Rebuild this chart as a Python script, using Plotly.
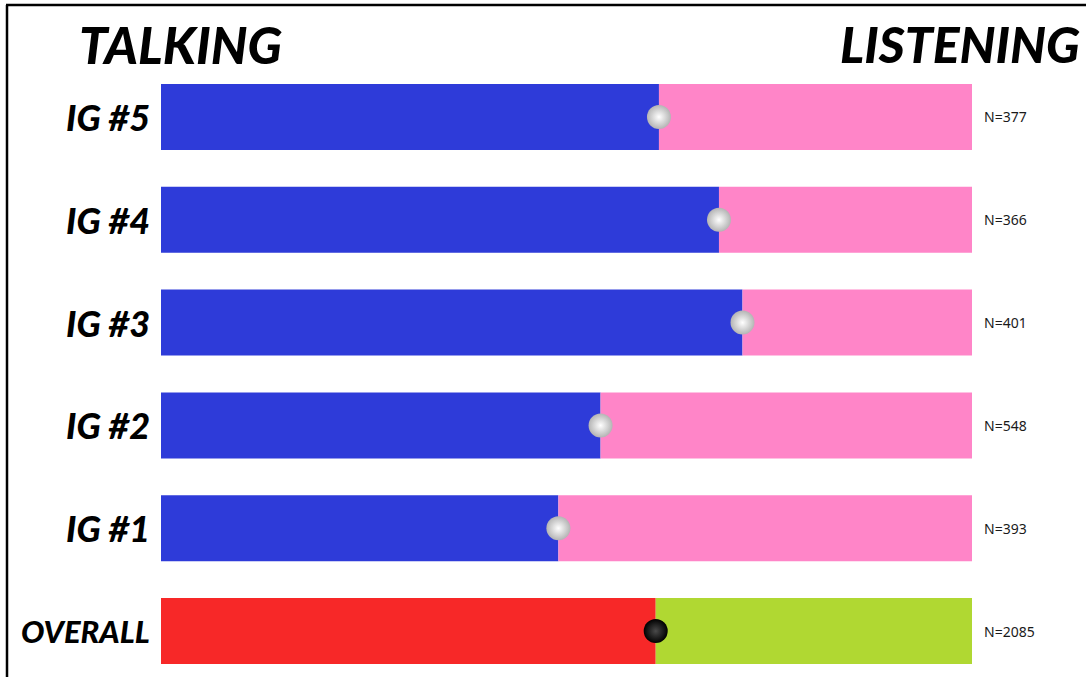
import plotly.graph_objects as go

# Share of time spent talking per group (remainder is listening)
groups = ["OVERALL", "IG #1", "IG #2", "IG #3", "IG #4", "IG #5"]
talking = [0.610, 0.490, 0.542, 0.717, 0.688, 0.614]
sample_sizes = ["N=2085", "N=393", "N=548", "N=401", "N=366", "N=377"]
label_sizes = [31, 36, 36, 36, 36, 36]

talk_colors = ["#F72828", "#2E3BD9", "#2E3BD9", "#2E3BD9", "#2E3BD9", "#2E3BD9"]
listen_colors = ["#B0D832", "#FF85C8", "#FF85C8", "#FF85C8", "#FF85C8", "#FF85C8"]

W, H = 1086, 677
L, R, T, B = 161, 114, 66, 0
PW = W - L - R
pos = list(range(len(groups)))
listening = [1 - t for t in talking]

heavy = dict(family="Lato", weight=900, style="italic", color="black")


def px_x(px):
    return (px - L) / PW


def px_y(py):
    return (H - py) / (H - T - B)


fig = go.Figure()
fig.add_trace(go.Bar(y=pos, x=talking, orientation="h", marker=dict(color=talk_colors, line=dict(width=0)),
                     width=0.642, hoverinfo="skip", showlegend=False))
fig.add_trace(go.Bar(y=pos, x=listening, base=talking, orientation="h",
                     marker=dict(color=listen_colors, line=dict(width=0)),
                     width=0.642, hoverinfo="skip", showlegend=False))

# Position markers (spheres) at the talking/listening split
fig.add_trace(go.Scatter(x=talking[1:], y=pos[1:], mode="markers",
                         marker=dict(size=24, color="#b4b4b4", line=dict(width=0),
                                     gradient=dict(type="radial", color="#ffffff")),
                         hoverinfo="skip", showlegend=False))
fig.add_trace(go.Scatter(x=talking[:1], y=pos[:1], mode="markers",
                         marker=dict(size=24, color="#000000", line=dict(width=0),
                                     gradient=dict(type="radial", color="#4a4a4a")),
                         hoverinfo="skip", showlegend=False))

annotations = []
for p, g, n, s in zip(pos, groups, sample_sizes, label_sizes):
    annotations.append(dict(x=px_x(152), y=p, xref="paper", yref="y", text=g, showarrow=False,
                            xanchor="right", yanchor="middle", font=dict(size=s, **heavy)))
    annotations.append(dict(x=px_x(982), y=p, xref="paper", yref="y", text=n, showarrow=False,
                            xanchor="left", yanchor="middle",
                            font=dict(size=14, family="Noto Sans", color="#1a1a1a")))

annotations.append(dict(x=px_x(77), y=px_y(45), xref="paper", yref="paper", text="TALKING",
                        showarrow=False, xanchor="left", yanchor="middle", font=dict(size=51, **heavy)))
annotations.append(dict(x=px_x(1082), y=px_y(44), xref="paper", yref="paper", text="LISTENING",
                        showarrow=False, xanchor="right", yanchor="middle", font=dict(size=50, **heavy)))

shapes = [
    dict(type="line", xref="paper", yref="paper", x0=px_x(6), x1=px_x(W + 5),
         y0=px_y(5), y1=px_y(5), line=dict(color="black", width=2.5)),
    dict(type="line", xref="paper", yref="paper", x0=px_x(7), x1=px_x(7),
         y0=px_y(5), y1=px_y(H + 5), line=dict(color="black", width=2.5)),
]

fig.update_layout(
    width=W, height=H, barmode="overlay",
    margin=dict(l=L, r=R, t=T, b=B, pad=0),
    paper_bgcolor="white", plot_bgcolor="white",
    xaxis=dict(range=[0, 1], visible=False),
    yaxis=dict(range=[-0.447, 5.496], visible=False),
    annotations=annotations, shapes=shapes,
)

fig.write_html("out.html")
